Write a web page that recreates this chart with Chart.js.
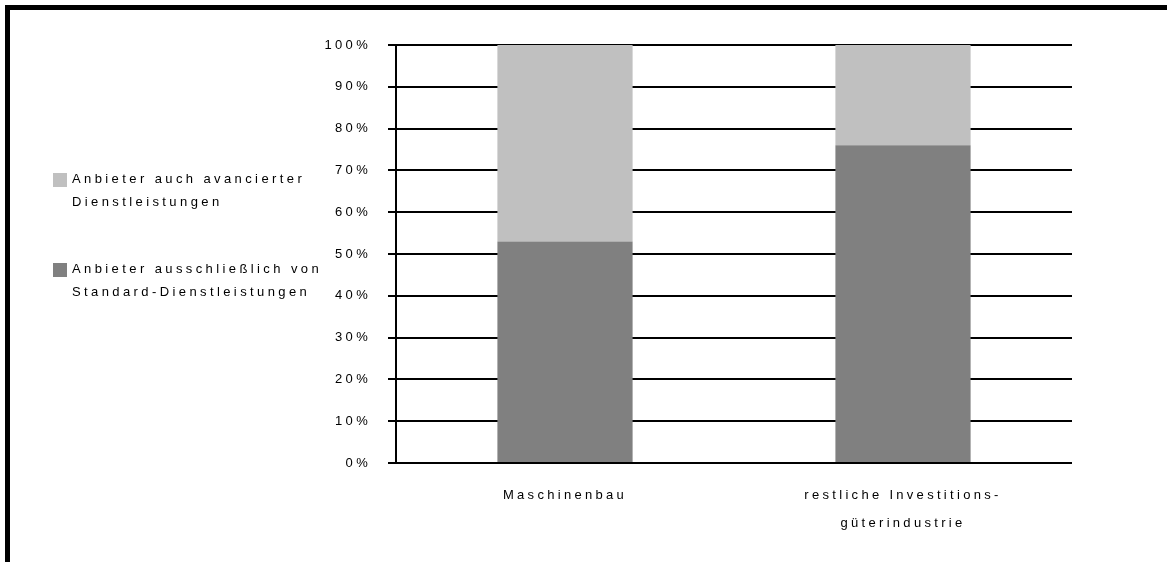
<!DOCTYPE html>
<html>
<head>
  <meta charset="UTF-8">
  <title>Dienstleistungsangebot</title>
  <script src="https://cdn.jsdelivr.net/npm/chart.js"></script>
  <style>
    body { margin: 0; width: 1167px; height: 562px; position: relative; overflow: hidden; background: #fff;
           font-family: Arial, "Liberation Sans", sans-serif; }
    #frame { position: absolute; left: 5px; top: 5px; right: 0; bottom: 0;
             border-top: 5px solid #000; border-left: 5px solid #000; }
    #wrap { position: absolute; left: 0; top: 0; width: 1167px; height: 562px; }
    #legend { position: absolute; left: 53px; top: 167px; font-size: 13px; letter-spacing: 3.4px;
              line-height: 23px; color: #000; }
    .item { position: relative; padding-left: 19px; margin-bottom: 44px; white-space: nowrap; }
    .box { position: absolute; left: 0; top: 6px; width: 14px; height: 14px; }
  </style>
</head>
<body>
  <div id="frame"></div>
  <div id="wrap"><canvas id="chart" width="1167" height="562"></canvas></div>
  <div id="legend"></div>
  <script>
    const categories = ['Maschinenbau', ['restliche Investitions-', 'güterindustrie']];
    const seriesLabels = [
      ['Anbieter ausschließlich von', 'Standard-Dienstleistungen'],
      ['Anbieter auch avancierter', 'Dienstleistungen']
    ];
    const standardOnly = [53, 76];
    const advanced = [47, 24];
    const colors = ['#808080', '#C0C0C0'];

    // legend, top entry = top of the stack
    const legend = document.getElementById('legend');
    [1, 0].forEach(i => {
      const div = document.createElement('div');
      div.className = 'item';
      div.innerHTML = `<span class="box" style="background:${colors[i]}"></span>` + seriesLabels[i].join('<br>');
      legend.appendChild(div);
    });

    const spacing = {
      id: 'spacing',
      beforeUpdate(chart) { chart.ctx.letterSpacing = '3.3px'; },
      beforeDraw(chart) { chart.ctx.letterSpacing = '3.3px'; }
    };

    new Chart(document.getElementById('chart').getContext('2d'), {
      type: 'bar',
      data: {
        labels: categories,
        datasets: [
          { label: seriesLabels[0].join(' '), data: standardOnly, backgroundColor: colors[0] },
          { label: seriesLabels[1].join(' '), data: advanced, backgroundColor: colors[1] }
        ]
      },
      options: {
        responsive: false,
        animation: false,
        categoryPercentage: 1,
        barPercentage: 0.4,
        layout: { padding: { top: 45, right: 95, left: 0, bottom: 0 } },
        plugins: { legend: { display: false }, tooltip: { enabled: false } },
        scales: {
          x: {
            stacked: true,
            grid: { display: false, drawTicks: false },
            border: { display: false },
            ticks: { color: '#000', padding: 18, maxRotation: 0,
                     font: { family: 'Arial', size: 13, lineHeight: '28px' } },
            afterFit(scale) { scale.height = 99; }
          },
          y: {
            stacked: true,
            min: 0,
            max: 100,
            grid: { color: '#000', lineWidth: 2, tickLength: 8 },
            border: { color: '#000', width: 2 },
            ticks: { stepSize: 10, color: '#000', padding: 17,
                     font: { family: 'Arial', size: 13 },
                     callback: v => v + '%' },
            afterFit(scale) { scale.width = 396; }
          }
        }
      },
      plugins: [spacing]
    });
  </script>
</body>
</html>
